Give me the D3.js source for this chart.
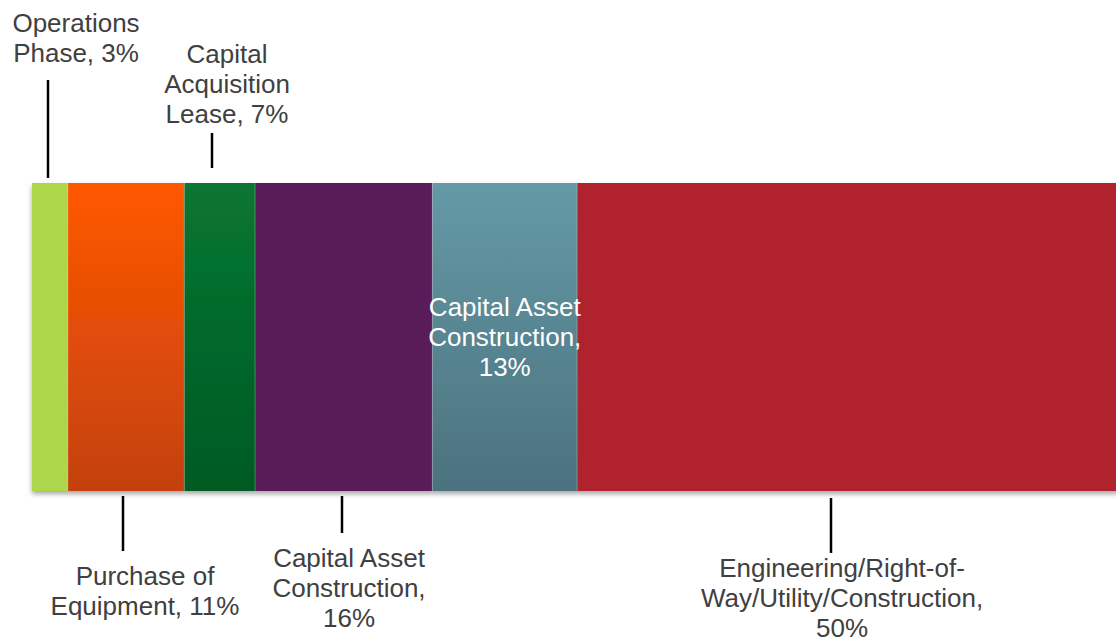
<!DOCTYPE html>
<html><head><meta charset="utf-8">
<script src="https://cdn.jsdelivr.net/npm/d3@7"></script>
<style>html,body{margin:0;padding:0;background:#fff;overflow:hidden}</style>
</head><body>
<svg id="chart" width="1116" height="643"></svg>
<script>
// Data
const categories = ["Operations Phase", "Purchase of Equipment", "Capital Acquisition Lease",
  "Capital Asset Construction", "Capital Asset Construction", "Engineering/Right-of-Way/Utility/Construction"];
const values = [3.3, 10.7, 6.5, 16.3, 13.3, 49.9];
const colorsTop = ["#AED64C", "#FF5804", "#077631", "#5A1E58", "#6599A6", "#B0232F"];
const colorsBottom = ["#AED64C", "#C3410A", "#055A24", "#5A1E58", "#4B727E", "#B0232F"];

// Label layout (presentation only)
const labelLines = [
  ["Operations", "Phase, 3%"],
  ["Purchase of", "Equipment, 11%"],
  ["Capital", "Acquisition", "Lease, 7%"],
  ["Capital Asset", "Construction,", "16%"],
  ["Capital Asset", "Construction,", "13%"],
  ["Engineering/Right-of-", "Way/Utility/Construction,", "50%"]
];
const labelPos = [ // cx, first baseline
  {x: 76, y: 32, leader: {x: 48, y1: 80, y2: 178}},
  {x: 145, y: 585, leader: {x: 123, y1: 496, y2: 551}},
  {x: 227, y: 63, leader: {x: 212, y1: 133, y2: 168}},
  {x: 349, y: 567, leader: {x: 342, y1: 496, y2: 533}},
  {x: null, y: 316, inside: true},
  {x: 842, y: 577, leader: {x: 831, y1: 498, y2: 553}}
];

const svg = d3.select("#chart");
const total = d3.sum(values);
const x = d3.scaleLinear().domain([0, total]).range([32, 1120]);
const y = d3.scaleBand().domain(["bar"]).range([183, 491]).padding(0);

const defs = svg.append("defs");
colorsTop.forEach((c, i) => {
  const g = defs.append("linearGradient").attr("id", "g" + i)
    .attr("x1", 0).attr("y1", 0).attr("x2", 0).attr("y2", 1);
  g.append("stop").attr("offset", "0%").attr("stop-color", c);
  g.append("stop").attr("offset", "100%").attr("stop-color", colorsBottom[i]);
});
const f = defs.append("filter").attr("id", "shadow").attr("x", "-5%").attr("y", "-5%").attr("width", "110%").attr("height", "120%");
f.append("feDropShadow").attr("dx", 0).attr("dy", 3).attr("stdDeviation", 2.5)
  .attr("flood-color", "#000").attr("flood-opacity", 0.35);

const stacked = [];
let acc = 0;
values.forEach((v, i) => { stacked.push({i, v, x0: acc, x1: acc + v}); acc += v; });

const gBar = svg.append("g").attr("filter", "url(#shadow)");
gBar.selectAll("rect").data(stacked).join("rect")
  .attr("x", d => x(d.x0))
  .attr("width", d => x(d.x1) - x(d.x0))
  .attr("y", y("bar"))
  .attr("height", y.bandwidth())
  .attr("fill", d => `url(#g${d.i})`);
// thin separators
svg.append("g").selectAll("line").data(stacked.slice(1)).join("line")
  .attr("x1", d => x(d.x0)).attr("x2", d => x(d.x0))
  .attr("y1", y("bar")).attr("y2", y("bar") + y.bandwidth())
  .attr("stroke", "rgba(255,255,255,0.25)").attr("stroke-width", 1);

// leader lines
svg.append("g").selectAll("line").data(labelPos.filter(d => d.leader)).join("line")
  .attr("x1", d => d.leader.x).attr("x2", d => d.leader.x)
  .attr("y1", d => d.leader.y1).attr("y2", d => d.leader.y2)
  .attr("stroke", "#000").attr("stroke-width", 2.5);

// labels
const lh = 30;
stacked.forEach(d => {
  const p = labelPos[d.i];
  const cx = p.inside ? (x(d.x0) + x(d.x1)) / 2 : p.x;
  const t = svg.append("text")
    .attr("x", cx).attr("y", p.y)
    .attr("text-anchor", "middle")
    .attr("font-family", "Arial, 'Liberation Sans', sans-serif")
    .attr("font-size", 26)
    .attr("fill", p.inside ? "#ffffff" : "#404040");
  labelLines[d.i].forEach((line, k) => {
    t.append("tspan").attr("x", cx).attr("y", p.y + k * lh).text(line);
  });
});
</script>
</body></html>
